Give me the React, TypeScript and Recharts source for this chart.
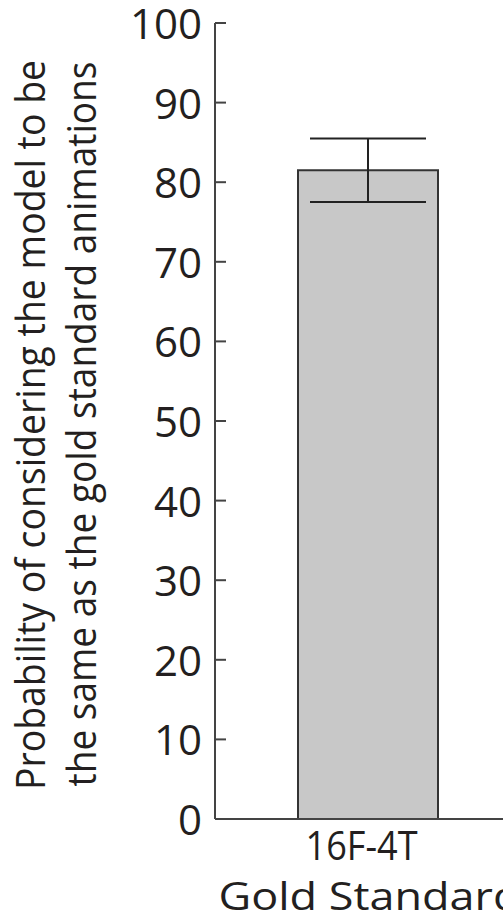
import React from "react";
import { BarChart, Bar, XAxis, YAxis, ErrorBar } from "recharts";

const categories = ["16F-4T"];
const values = [81.5];
const errors = [4];
const yTicks = [0, 10, 20, 30, 40, 50, 60, 70, 80, 90, 100];
const xTitle = "Gold Standard";
const yTitle = ["Probability of considering the model to be", "the same as the gold standard animations"];

const data = categories.map((name, i) => ({ name, value: values[i], err: errors[i] }));

const FONT = "'Open Sans', sans-serif";
const INK = "#231f20";

const YTick = (props: any) => {
  const { x, y, payload } = props;
  return (
    <g>
      <line x1={x} y1={y} x2={x + 11} y2={y} stroke="#444" strokeWidth={2} />
      <text x={x - 13} y={y + 16} textAnchor="end" fontSize={42} fill={INK} fontFamily={FONT}>
        {payload.value}
      </text>
    </g>
  );
};

const XTick = (props: any) => {
  const { x, y, payload } = props;
  return (
    <text x={x - 6} y={y + 41} textAnchor="middle" fontSize={41} fill={INK} fontFamily={FONT} textLength={112} lengthAdjust="spacingAndGlyphs">
      {payload.value}
    </text>
  );
};

const XLabel = (props: any) => {
  const { viewBox } = props;
  const cx = viewBox.x + viewBox.width / 2 + 2;
  return (
    <text x={cx} y={910} textAnchor="middle" fontSize={39} fill={INK} fontFamily={FONT} textLength={302} lengthAdjust="spacingAndGlyphs">
      {xTitle}
    </text>
  );
};

const YLabel = () => {
  return (
    <g fontFamily={FONT} fontSize={40} fill={INK}>
      <text transform="translate(45, 425) rotate(-90)" textAnchor="middle" textLength={730} lengthAdjust="spacingAndGlyphs">
        {yTitle[0]}
      </text>
      <text transform="translate(96, 424) rotate(-90)" textAnchor="middle" textLength={725} lengthAdjust="spacingAndGlyphs">
        {yTitle[1]}
      </text>
    </g>
  );
};

export default function App() {
  return (
    <div style={{ position: "absolute", left: 0, top: 0, width: 503, height: 924, overflow: "hidden", background: "#fff" }}>
      <BarChart width={520} height={924} data={data} margin={{ top: 23, right: 0, bottom: 0, left: 0 }}>
        <YAxis
          type="number"
          domain={[0, 100]}
          ticks={yTicks}
          width={215}
          tickSize={0}
          tickMargin={0}
          tickLine={false}
          axisLine={{ stroke: "#444", strokeWidth: 2 }}
          tick={<YTick />}
          label={<YLabel />}
          interval={0}
        />
        <XAxis
          dataKey="name"
          height={105}
          tickSize={0}
          tickMargin={0}
          tickLine={false}
          axisLine={{ stroke: "#444", strokeWidth: 2 }}
          tick={<XTick />}
          label={<XLabel />}
        />
        <Bar dataKey="value" fill="#c8c8c8" stroke="#333" strokeWidth={2} barSize={140} isAnimationActive={false}>
          <ErrorBar dataKey="err" width={58} stroke="#222" strokeWidth={2} />
        </Bar>
      </BarChart>
    </div>
  );
}
